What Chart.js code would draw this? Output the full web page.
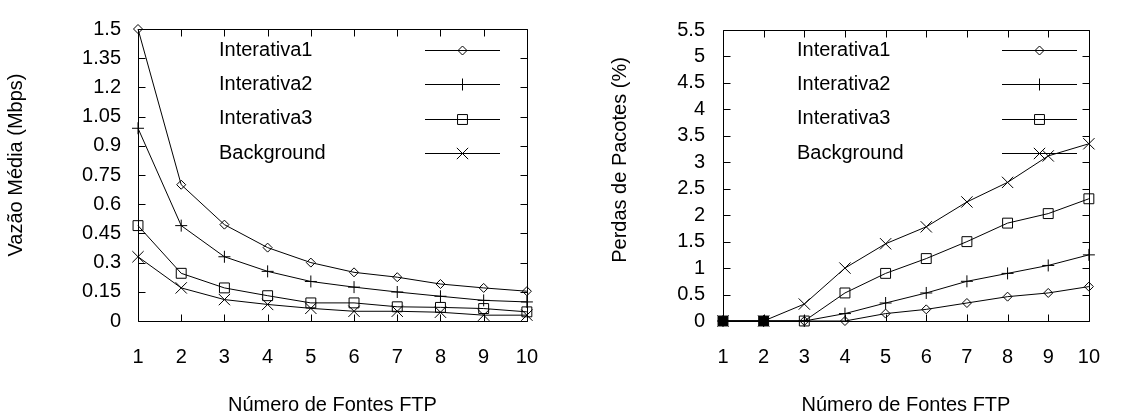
<!DOCTYPE html>
<html>
<head>
<meta charset="utf-8">
<script src="https://cdn.jsdelivr.net/npm/chart.js@4.4.0/dist/chart.umd.min.js"></script>
<style>
  html, body { margin: 0; padding: 0; background: #fff; }
  #wrap { width: 1124px; height: 417px; display: flex; }
  .box { width: 562px; height: 417px; position: relative; }
</style>
</head>
<body>
<div id="wrap">
  <div class="box"><canvas id="vazao"></canvas></div>
  <div class="box"><canvas id="perdas"></canvas></div>
</div>
<script>
// numero de fontes FTP
var fontes = [1, 2, 3, 4, 5, 6, 7, 8, 9, 10];
var series = ['Interativa1', 'Interativa2', 'Interativa3', 'Background'];

// vazao media (Mbps)
var vazaoInt1 = [1.5, 0.70, 0.495, 0.377, 0.30, 0.25, 0.225, 0.19, 0.17, 0.153];
var vazaoInt2 = [0.99, 0.49, 0.33, 0.255, 0.203, 0.174, 0.149, 0.127, 0.106, 0.098];
var vazaoInt3 = [0.49, 0.245, 0.17, 0.13, 0.093, 0.093, 0.073, 0.07, 0.064, 0.047];
var vazaoBg   = [0.33, 0.17, 0.11, 0.085, 0.065, 0.05, 0.05, 0.045, 0.03, 0.03];

// perdas de pacotes (%)
var perdasInt1 = [0, 0, 0, 0, 0.14, 0.22, 0.34, 0.46, 0.53, 0.65];
var perdasInt2 = [0, 0, 0, 0.14, 0.34, 0.53, 0.75, 0.90, 1.05, 1.25];
var perdasInt3 = [0, 0, 0, 0.53, 0.90, 1.18, 1.50, 1.85, 2.03, 2.31];
var perdasBg   = [0, 0, 0.32, 1.0, 1.46, 1.78, 2.25, 2.62, 3.12, 3.35];

var FONT = '"Liberation Sans", Arial, sans-serif';
var estilos = [
  { pointStyle: 'rectRot', radius: 4.5 },
  { pointStyle: 'cross', radius: 6 },
  { pointStyle: 'rect', radius: 7 },
  { pointStyle: 'crossRot', radius: 8 }
];

function pontos(vals) {
  return fontes.map(function (f, i) { return { x: f, y: vals[i] }; });
}

function montaDatasets(lista) {
  return lista.map(function (vals, i) {
    return {
      label: series[i],
      data: pontos(vals),
      borderColor: '#000',
      borderWidth: 1,
      backgroundColor: '#fff',
      pointBackgroundColor: 'rgba(0,0,0,0)',
      pointBorderColor: '#000',
      pointBorderWidth: 1,
      pointStyle: estilos[i].pointStyle,
      pointRadius: estilos[i].radius,
      pointHoverRadius: estilos[i].radius,
      tension: 0,
      clip: false
    };
  });
}

// moldura com marcas para dentro, estilo gnuplot
var moldura = {
  id: 'moldura',
  beforeDatasetsDraw: function (chart) {
    var ctx = chart.ctx, a = chart.chartArea;
    var L = Math.round(a.left) + 0.5, R = Math.round(a.right) + 0.5;
    var T = Math.round(a.top) + 0.5, B = Math.round(a.bottom) + 0.5;
    var len = 7;
    ctx.save();
    ctx.strokeStyle = '#000';
    ctx.lineWidth = 1;
    ctx.beginPath();
    ctx.rect(L, T, R - L, B - T);
    chart.scales.y.ticks.forEach(function (t) {
      var y = Math.round(chart.scales.y.getPixelForValue(t.value)) + 0.5;
      ctx.moveTo(L, y); ctx.lineTo(L + len, y);
      ctx.moveTo(R, y); ctx.lineTo(R - len, y);
    });
    chart.scales.x.ticks.forEach(function (t) {
      var x = Math.round(chart.scales.x.getPixelForValue(t.value)) + 0.5;
      ctx.moveTo(x, B); ctx.lineTo(x, B - len);
      ctx.moveTo(x, T); ctx.lineTo(x, T + len);
    });
    ctx.stroke();
    ctx.restore();
  }
};

// titulos dos eixos
var titulos = {
  id: 'titulos',
  afterDraw: function (chart, args, opts) {
    var ctx = chart.ctx, a = chart.chartArea;
    ctx.save();
    ctx.fillStyle = '#000';
    ctx.font = '20px ' + FONT;
    ctx.textAlign = 'center';
    ctx.textBaseline = 'middle';
    ctx.fillText(opts.x, (a.left + a.right) / 2, opts.xY);
    ctx.translate(opts.yX, opts.yY);
    ctx.rotate(-Math.PI / 2);
    ctx.fillText(opts.y, 0, 0);
    ctx.restore();
  }
};

// legenda interna: texto a esquerda, amostra da linha a direita
var legenda = {
  id: 'legenda',
  afterDatasetsDraw: function (chart, args, opts) {
    var ctx = chart.ctx;
    ctx.save();
    ctx.font = opts.fontSize + 'px ' + FONT;
    ctx.textBaseline = 'middle';
    chart.data.datasets.forEach(function (ds, i) {
      var y = opts.top + i * opts.step;
      ctx.fillStyle = '#000';
      ctx.fillText(ds.label, opts.textX, y);
      var yy = Math.round(y) + 0.5;
      ctx.strokeStyle = '#000';
      ctx.lineWidth = 1;
      ctx.beginPath();
      ctx.moveTo(opts.lineX1, yy);
      ctx.lineTo(opts.lineX2, yy);
      ctx.stroke();
      ctx.fillStyle = 'rgba(0,0,0,0)';
      Chart.helpers.drawPoint(ctx, {
        pointStyle: ds.pointStyle, radius: ds.pointRadius, rotation: 0, borderWidth: 1
      }, (opts.lineX1 + opts.lineX2) / 2, yy);
    });
    ctx.restore();
  }
};

function criaGrafico(id, datasets, yMax, yStep, area, leg, tit) {
  return new Chart(document.getElementById(id), {
    type: 'line',
    data: { datasets: datasets },
    plugins: [moldura, legenda, titulos],
    options: {
      responsive: false,
      animation: false,
      events: [],
      devicePixelRatio: 1,
      layout: { padding: { top: area.top, right: area.right, left: 0, bottom: 0 } },
      plugins: {
        legend: { display: false },
        tooltip: { enabled: false },
        legenda: leg,
        titulos: tit
      },
      scales: {
        x: {
          type: 'linear', min: 1, max: 10,
          grid: { display: false, drawTicks: false },
          border: { display: false },
          ticks: { stepSize: 1, autoSkip: false, maxRotation: 0, color: '#000', padding: 24,
                   font: { family: FONT, size: 20 } },
          afterFit: function (s) { s.height = area.xh; }
        },
        y: {
          min: 0, max: yMax,
          grid: { display: false, drawTicks: false },
          border: { display: false },
          ticks: { stepSize: yStep, autoSkip: false, color: '#000', padding: area.yp,
                   font: { family: FONT, size: 20 },
                   callback: function (v) { return String(+v.toFixed(2)); } },
          afterFit: function (s) { s.width = area.yw; }
        }
      }
    }
  });
}

var c1 = document.getElementById('vazao');
c1.width = 562; c1.height = 417;
var c2 = document.getElementById('perdas');
c2.width = 562; c2.height = 417;

var dsVazao = montaDatasets([vazaoInt1, vazaoInt2, vazaoInt3, vazaoBg]);
var dsPerdas = montaDatasets([perdasInt1, perdasInt2, perdasInt3, perdasBg]);
// onde as quatro curvas coincidem os marcadores se fundem num bloco preto
dsPerdas[2].pointBackgroundColor = function (ctx) {
  var i = ctx.dataIndex;
  var todas = [perdasInt1, perdasInt2, perdasInt3, perdasBg].every(function (s) { return s[i] === 0; });
  return todas ? '#000' : 'rgba(0,0,0,0)';
};

criaGrafico('vazao', dsVazao, 1.5, 0.15,
  { top: 25, right: 27, yw: 138, xh: 96, yp: 17 },
  { textX: 219, top: 50, step: 34.4, fontSize: 20, lineX1: 425, lineX2: 500 },
  { x: 'Número de Fontes FTP', xY: 405, y: 'Vazão Média (Mbps)', yX: 16, yY: 165 });

criaGrafico('perdas', dsPerdas, 5.5, 0.5,
  { top: 25, right: 9, yw: 161, xh: 96, yp: 18 },
  { textX: 235, top: 50, step: 34.4, fontSize: 20, lineX1: 440, lineX2: 515 },
  { x: 'Número de Fontes FTP', xY: 405, y: 'Perdas de Pacotes (%)', yX: 58, yY: 160 });
</script>
</body>
</html>
